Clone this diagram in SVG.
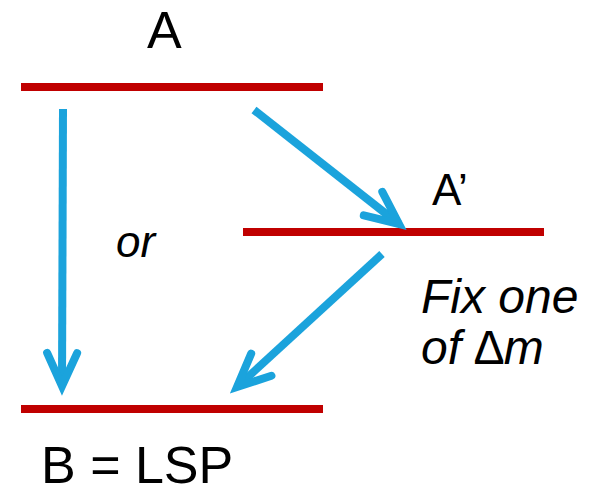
<svg xmlns="http://www.w3.org/2000/svg" width="591" height="494" viewBox="0 0 591 494">
<style>
.lvl{stroke:#C00000;stroke-width:8;fill:none}
.arr{stroke:#1BA3DC;stroke-width:8;fill:none;marker-end:url(#head)}
text{font-family:"Liberation Sans",Arial,sans-serif;fill:#000}
.it{font-style:italic}
</style>
<defs>
<marker id="head" markerUnits="userSpaceOnUse" markerWidth="60" markerHeight="60" viewBox="-50 -30 60 60" refX="0" refY="0" orient="auto">
<path d="M -33 -15 L 0 0 L -33 15" stroke="#1BA3DC" stroke-width="8" fill="none" stroke-linecap="round" stroke-linejoin="miter"/>
</marker>
</defs>
<rect width="591" height="494" fill="#fff"/>
<g id="level-A">
<line class="lvl" x1="21" y1="87" x2="323" y2="87"/>
<text x="147" y="48" font-size="52">A</text>
</g>
<g id="level-Aprime">
<line class="lvl" x1="243" y1="232" x2="544" y2="232"/>
<text x="432" y="205" font-size="44">A’</text>
</g>
<g id="level-B">
<line class="lvl" x1="21" y1="409" x2="323" y2="409"/>
<text x="41" y="483" font-size="52">B = LSP</text>
</g>
<g id="labels">
<text class="it" x="116" y="257" font-size="44">or</text>
<text class="it" x="421" y="313" font-size="48">Fix one</text>
<text class="it" x="421" y="364" font-size="48">of ∆m</text>
</g>
<g id="connectors">
<path class="arr" d="M 63 109 L 62 386"/>
<path class="arr" d="M 254 110 L 399 224"/>
<path class="arr" d="M 382 254 L 237 387"/>
</g>
</svg>
